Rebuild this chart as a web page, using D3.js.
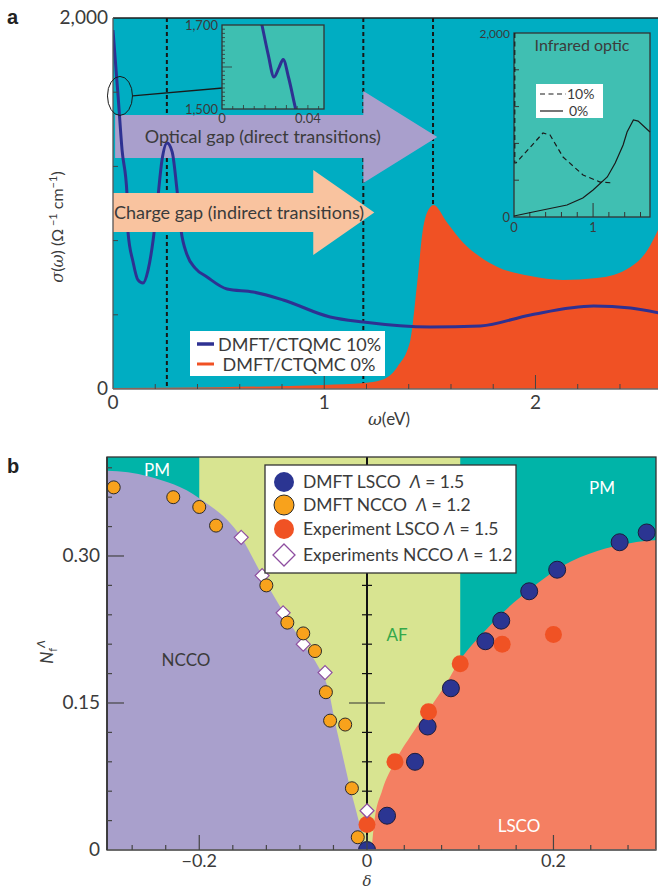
<!DOCTYPE html>
<html><head><meta charset="utf-8">
<script src="https://cdn.jsdelivr.net/npm/d3@7"></script>
<style>
body{margin:0;background:#fff;}
svg{display:block;font-family:Lato,"Open Sans",sans-serif;}
text{white-space:pre;}
</style></head><body>
<svg id="c" width="658" height="890"></svg>
<script>
// ================= DATA =================
// Panel a: optical conductivity sigma(omega), Ohm^-1 cm^-1
const omega10 = [0, 0.024, 0.043, 0.066, 0.071, 0.095, 0.118, 0.142, 0.166, 0.190, 0.209, 0.232, 0.256, 0.280, 0.303, 0.322, 0.351, 0.389, 0.445, 0.540, 0.664, 0.806, 1.028, 1.185, 1.502, 1.739, 1.976, 2.275, 2.450, 2.583];
const sigma10 = [1935, 1580, 1288, 1057, 846, 685, 588, 571, 641, 803, 992, 1234, 1326, 1278, 1073, 857, 722, 652, 604, 539, 523, 480, 388, 361, 334, 340, 399, 447, 437, 410];
const omega0 = [0, 0.5, 1.0, 1.19, 1.27, 1.346, 1.408, 1.44, 1.469, 1.502, 1.517, 1.583, 1.659, 1.739, 1.82, 1.976, 2.13, 2.29, 2.45, 2.53, 2.58];
const sigma0 = [5, 10, 22, 32, 48, 119, 264, 571, 873, 981, 992, 895, 787, 712, 658, 609, 588, 598, 658, 749, 857];
const gapLines = [0.255, 1.185, 1.515];
const aXTickLabels = ["0", "1", "2"];
const aYTickLabels = ["0", "2,000"];
const legendA = ["DMFT/CTQMC 10%", " DMFT/CTQMC 0%"];
// zoom inset (top)
const zoomOmega = [0.016, 0.0186, 0.0215, 0.0242, 0.0265, 0.0285, 0.031, 0.0343, 0.036];
const zoomSigma = [1760, 1700, 1630, 1576, 1598, 1618, 1575, 1500, 1465];
const zoomYLabels = ["1,500", "1,700"];
const zoomXLabels = ["0", "0.04"];
// infrared inset
const irOmega10 = [0.01, 0.01, 0.025, 0.367, 0.456, 0.62, 0.873, 1.089, 1.253];
const irSigma10 = [2000, 587, 587, 913, 891, 652, 457, 380, 370];
const irOmega0 = [0, 0.24, 0.67, 0.87, 1.0, 1.18, 1.28, 1.38, 1.43, 1.51, 1.57, 1.72];
const irSigma0 = [11, 54, 130, 207, 293, 435, 587, 783, 924, 1054, 1043, 924];
const irLegend = ["10%", "0%"];

// Panel b: N_f^Lambda vs doping delta
const dmftLscoDelta = [0, 0.0215, 0.0515, 0.065, 0.090, 0.127, 0.144, 0.174, 0.204, 0.271, 0.300];
const dmftLscoN     = [0, 0.035, 0.090, 0.126, 0.165, 0.213, 0.234, 0.264, 0.286, 0.314, 0.324];
const dmftNccoDelta = [-0.302, -0.231, -0.200, -0.180, -0.120, -0.095, -0.076, -0.062, -0.049, -0.044, -0.026, -0.018, -0.011];
const dmftNccoN     = [0.370, 0.360, 0.350, 0.331, 0.270, 0.232, 0.221, 0.203, 0.161, 0.132, 0.128, 0.063, 0.013];
const expLscoDelta  = [0.0, 0.030, 0.066, 0.100, 0.145, 0.200];
const expLscoN      = [0.026, 0.090, 0.141, 0.190, 0.210, 0.220];
const expNccoDelta  = [-0.150, -0.125, -0.100, -0.076, -0.050, 0.0];
const expNccoN      = [0.319, 0.280, 0.242, 0.210, 0.181, 0.040];
const nccoBoundDelta = [-0.31, -0.26, -0.2, -0.15, -0.125, -0.1, -0.076, -0.06, -0.045, -0.038, -0.03, -0.02, -0.01, -0.002];
const nccoBoundN     = [0.387, 0.381, 0.359, 0.319, 0.280, 0.243, 0.21, 0.19, 0.16, 0.13, 0.10, 0.063, 0.03, 0];
const lscoBoundDelta = [0.005, 0.008, 0.016, 0.03, 0.048, 0.066, 0.085, 0.1, 0.125, 0.15, 0.175, 0.21, 0.247, 0.282, 0.311];
const lscoBoundN     = [0, 0.03, 0.06, 0.09, 0.118, 0.143, 0.170, 0.194, 0.222, 0.246, 0.266, 0.290, 0.305, 0.313, 0.316];
const afRange = [-0.2, 0.1];
const bXTickLabels = ["\u22120.2", "0", "0.2"];
const bYTickLabels = ["0", "0.15", "0.30"];
const legendBNames = ["DMFT LSCO  ", "DMFT NCCO  ", "Experiment LSCO ", "Experiments NCCO "];
const legendBLambda = ["1.5", "1.2", "1.5", "1.2"];

// ================= DRAW =================
const svg = d3.select("#c");
const ink = "#3b3b3b";
const defs = svg.append("defs");

// ---------- Panel a ----------
const xA = d3.scaleLinear().domain([0, 2.58]).range([113, 658]);
const yA = d3.scaleLinear().domain([0, 2000]).range([389, 18]);
defs.append("clipPath").attr("id", "clipA").append("rect")
  .attr("x", xA(0)).attr("y", yA(2000)).attr("width", xA(2.58) - xA(0)).attr("height", yA(0) - yA(2000));
const gA = svg.append("g").attr("clip-path", "url(#clipA)");
gA.append("rect").attr("x", xA(0)).attr("y", yA(2000)).attr("width", xA(2.58) - xA(0)).attr("height", yA(0) - yA(2000)).attr("fill", "#00adc2");

gapLines.forEach(w => gA.append("line").attr("x1", xA(w)).attr("x2", xA(w)).attr("y1", yA(2000)).attr("y2", yA(0))
  .attr("stroke", "#161616").attr("stroke-width", 2).attr("stroke-dasharray", "4,3"));

const red = omega0.map((w, i) => [w, sigma0[i]]);
gA.append("path").datum(red)
  .attr("d", d3.area().x(d => xA(d[0])).y0(yA(0)).y1(d => yA(d[1])).curve(d3.curveMonotoneX))
  .attr("fill", "#f05124");

function arrowPts(a) {
  const mid = (a.head[0] + a.head[1]) / 2;
  const p = [[a.from, a.body[1]], [a.headStart, a.body[1]], [a.headStart, a.head[1]], [a.tip, mid],
             [a.headStart, a.head[0]], [a.headStart, a.body[0]], [a.from, a.body[0]]];
  return p.map(q => xA(q[0]) + "," + yA(q[1])).join(" ");
}
const opticalArrow = {from: 0.01, headStart: 1.185, tip: 1.535, body: [1245, 1477], head: [1110, 1606]};
const chargeArrow  = {from: 0.0, headStart: 0.948, tip: 1.237, body: [846, 1057], head: [722, 1181]};

gA.append("polygon").attr("points", arrowPts(opticalArrow)).attr("fill", "#a99fcc");

const blue = omega10.map((w, i) => [w, sigma10[i]]);
gA.append("path").datum(blue)
  .attr("d", d3.line().x(d => xA(d[0])).y(d => yA(d[1])).curve(d3.curveMonotoneX))
  .attr("fill", "none").attr("stroke", "#2e3192").attr("stroke-width", 3);

gA.append("polygon").attr("points", arrowPts(chargeArrow)).attr("fill", "#f9c39f");

svg.append("text").attr("x", xA(0.15)).attr("y", yA(1361) + 6).attr("font-size", 18).attr("fill", ink)
  .text("Optical gap (direct transitions)");
svg.append("text").attr("x", xA(0.005)).attr("y", yA(951) + 6).attr("font-size", 18).attr("fill", ink)
  .text("Charge gap (indirect transitions)");

// axes a
svg.append("line").attr("x1", xA(0)).attr("x2", 658).attr("y1", yA(2000)).attr("y2", yA(2000)).attr("stroke", "#1e1e1e").attr("stroke-width", 1.5);
svg.append("line").attr("x1", xA(0)).attr("x2", xA(0)).attr("y1", yA(2000)).attr("y2", yA(0)).attr("stroke", "#555").attr("stroke-width", 1.3);
svg.append("line").attr("x1", xA(0)).attr("x2", 658).attr("y1", yA(0)).attr("y2", yA(0)).attr("stroke", "#6a6a6a").attr("stroke-width", 1.6);
d3.range(1, 5).forEach(i => svg.append("line").attr("x1", xA(0)).attr("x2", xA(0) + 5)
  .attr("y1", yA(i * 400)).attr("y2", yA(i * 400)).attr("stroke", "#444").attr("stroke-width", 1));
d3.range(1, 13).forEach(i => {
  const v = i * 0.2, major = (i % 5 === 0);
  svg.append("line").attr("x1", xA(v)).attr("x2", xA(v)).attr("y1", yA(0)).attr("y2", yA(0) - (major ? 14 : 5))
    .attr("stroke", "#444").attr("stroke-width", 1);
});
aXTickLabels.forEach((t, i) => svg.append("text").attr("x", xA(i)).attr("y", 409).attr("text-anchor", "middle")
  .attr("font-size", 19).attr("fill", ink).text(t));
[0, 2000].forEach((v, i) => svg.append("text").attr("x", 108).attr("y", yA(v) + 6).attr("text-anchor", "end")
  .attr("font-size", 19).attr("fill", ink).text(aYTickLabels[i]));
const xl = svg.append("text").attr("x", 389).attr("y", 425).attr("text-anchor", "middle").attr("font-size", 17).attr("fill", ink);
xl.append("tspan").attr("font-style", "italic").attr("font-family", "DejaVu Serif").text("\u03c9");
xl.append("tspan").text("(eV)");
const yl = svg.append("text").attr("transform", "translate(63,227) rotate(-90)").attr("text-anchor", "middle")
  .attr("font-size", 16).attr("fill", ink);
yl.append("tspan").attr("font-style", "italic").attr("font-family", "DejaVu Serif").text("\u03c3");
yl.append("tspan").text("(");
yl.append("tspan").attr("font-style", "italic").attr("font-family", "DejaVu Serif").text("\u03c9");
yl.append("tspan").text(") (\u03a9");
yl.append("tspan").attr("dy", -6).attr("font-size", 11).text(" \u22121");
yl.append("tspan").attr("dy", 6).text(" cm");
yl.append("tspan").attr("dy", -6).attr("font-size", 11).text("\u22121");
yl.append("tspan").attr("dy", 6).text(")");

// ellipse + connector to zoom inset
const xIn = d3.scaleLinear().domain([0, 0.0475]).range([222, 324]);
const yIn = d3.scaleLinear().domain([1500, 1700]).range([109, 25]);
svg.append("ellipse").attr("cx", xA(0.033)).attr("cy", yA(1580)).attr("rx", 12.5).attr("ry", 19.5)
  .attr("fill", "none").attr("stroke", "#1a1a1a").attr("stroke-width", 1);
svg.append("line").attr("x1", xA(0.033) + 12.5).attr("y1", yA(1580)).attr("x2", xIn(0.007)).attr("y2", yIn(1553))
  .attr("stroke", "#1a1a1a").attr("stroke-width", 1.3);

// zoom inset
defs.append("clipPath").attr("id", "clipIn").append("rect").attr("x", xIn(0)).attr("y", yIn(1700))
  .attr("width", xIn(0.0475) - xIn(0)).attr("height", yIn(1500) - yIn(1700));
svg.append("rect").attr("x", xIn(0)).attr("y", yIn(1700)).attr("width", xIn(0.0475) - xIn(0)).attr("height", yIn(1500) - yIn(1700))
  .attr("fill", "#3ebfb1");
svg.append("g").attr("clip-path", "url(#clipIn)").append("path").datum(zoomOmega.map((w, i) => [w, zoomSigma[i]]))
  .attr("d", d3.line().x(d => xIn(d[0])).y(d => yIn(d[1])).curve(d3.curveMonotoneX))
  .attr("fill", "none").attr("stroke", "#2e3192").attr("stroke-width", 3);
d3.range(1, 20).forEach(i => {
  const v = 1500 + i * 10;
  svg.append("line").attr("x1", xIn(0)).attr("x2", xIn(0) + (i === 10 ? 10 : 3)).attr("y1", yIn(v)).attr("y2", yIn(v))
    .attr("stroke", "#333").attr("stroke-width", 0.8);
});
d3.range(1, 10).forEach(i => {
  const v = i * 0.005;
  svg.append("line").attr("x1", xIn(v)).attr("x2", xIn(v)).attr("y1", yIn(1500)).attr("y2", yIn(1500) - (i % 2 === 0 ? 4 : 3))
    .attr("stroke", "#333").attr("stroke-width", 0.8);
});
svg.append("rect").attr("x", xIn(0)).attr("y", yIn(1700)).attr("width", xIn(0.0475) - xIn(0)).attr("height", yIn(1500) - yIn(1700))
  .attr("fill", "none").attr("stroke", "#333").attr("stroke-width", 1.3);
[1500, 1700].forEach((v, i) => svg.append("text").attr("x", xIn(0) - 4).attr("y", yIn(v) + 5).attr("text-anchor", "end")
  .attr("font-size", 13).attr("fill", ink).text(zoomYLabels[i]));
[0, 0.04].forEach((v, i) => svg.append("text").attr("x", xIn(v)).attr("y", yIn(1500) + 14).attr("text-anchor", "middle")
  .attr("font-size", 13).attr("fill", ink).text(zoomXLabels[i]));

// infrared inset
const xIR = d3.scaleLinear().domain([0, 1.72]).range([514, 650]);
const yIR = d3.scaleLinear().domain([0, 2000]).range([217, 33]);
svg.append("rect").attr("x", xIR(0)).attr("y", yIR(2000)).attr("width", xIR(1.72) - xIR(0)).attr("height", yIR(0) - yIR(2000))
  .attr("fill", "#40bfb2").attr("stroke", "#333").attr("stroke-width", 1.3);
d3.range(1, 5).forEach(i => svg.append("line").attr("x1", xIR(0)).attr("x2", xIR(0) + 5).attr("y1", yIR(i * 400)).attr("y2", yIR(i * 400))
  .attr("stroke", "#333").attr("stroke-width", 1));
d3.range(1, 9).forEach(i => svg.append("line").attr("x1", xIR(i * 0.2)).attr("x2", xIR(i * 0.2)).attr("y1", yIR(0))
  .attr("y2", yIR(0) - (i === 5 ? 14 : 5)).attr("stroke", "#333").attr("stroke-width", 1));
const irLine = d3.line().x(d => xIR(d[0])).y(d => yIR(d[1]));
svg.append("path").datum(irOmega10.map((w, i) => [w, irSigma10[i]])).attr("d", irLine)
  .attr("fill", "none").attr("stroke", "#1a1a1a").attr("stroke-width", 1.2).attr("stroke-dasharray", "5,3.5");
svg.append("path").datum(irOmega0.map((w, i) => [w, irSigma0[i]])).attr("d", irLine)
  .attr("fill", "none").attr("stroke", "#1a1a1a").attr("stroke-width", 1.2);
svg.append("text").attr("x", xIR(0.86)).attr("y", 51).attr("text-anchor", "middle").attr("font-size", 16).attr("fill", ink).text("Infrared optic");
svg.append("text").attr("x", xIR(0) - 4).attr("y", yIR(2000) + 5).attr("text-anchor", "end").attr("font-size", 12).attr("fill", ink).text("2,000");
svg.append("text").attr("x", xIR(0) - 4).attr("y", yIR(0) + 5).attr("text-anchor", "end").attr("font-size", 13).attr("fill", ink).text("0");
svg.append("text").attr("x", xIR(0)).attr("y", yIR(0) + 15).attr("text-anchor", "middle").attr("font-size", 13).attr("fill", ink).text("0");
svg.append("text").attr("x", xIR(1)).attr("y", yIR(0) + 15).attr("text-anchor", "middle").attr("font-size", 13).attr("fill", ink).text("1");
svg.append("rect").attr("x", 536).attr("y", 84).attr("width", 67).attr("height", 34).attr("fill", "#fff");
svg.append("line").attr("x1", 540).attr("x2", 566).attr("y1", 94).attr("y2", 94).attr("stroke", "#1a1a1a").attr("stroke-width", 1.2).attr("stroke-dasharray", "5,3.5");
svg.append("line").attr("x1", 540).attr("x2", 563).attr("y1", 111).attr("y2", 111).attr("stroke", "#1a1a1a").attr("stroke-width", 1.2);
svg.append("text").attr("x", 567).attr("y", 99).attr("font-size", 14).attr("fill", ink).text(irLegend[0]);
svg.append("text").attr("x", 569).attr("y", 116).attr("font-size", 14).attr("fill", ink).text(irLegend[1]);

// legend a
svg.append("rect").attr("x", 190).attr("y", 331).attr("width", 195).attr("height", 45).attr("fill", "#fff");
svg.append("line").attr("x1", 197).attr("x2", 214).attr("y1", 344).attr("y2", 344).attr("stroke", "#2e3192").attr("stroke-width", 3.5);
svg.append("line").attr("x1", 197).attr("x2", 214).attr("y1", 364).attr("y2", 364).attr("stroke", "#f05124").attr("stroke-width", 3);
svg.append("text").attr("x", 218).attr("y", 351).attr("font-size", 18).attr("fill", ink).text(legendA[0]);
svg.append("text").attr("x", 218).attr("y", 371).attr("font-size", 18).attr("fill", ink).text(legendA[1]);

svg.append("text").attr("x", 7).attr("y", 24).attr("font-size", 20).attr("font-weight", "bold").attr("font-family", "Liberation Sans").attr("fill", "#222").text("a");
svg.append("text").attr("x", 7).attr("y", 473).attr("font-size", 20).attr("font-weight", "bold").attr("font-family", "Liberation Sans").attr("fill", "#222").text("b");

// ---------- Panel b ----------
const xB = d3.scaleLinear().domain([-0.31, 0, 0.31]).range([107, 367, 656]);
const yB = d3.scaleLinear().domain([0, 0.401]).range([850, 457]);
defs.append("clipPath").attr("id", "clipB").append("rect").attr("x", xB(-0.31)).attr("y", yB(0.401))
  .attr("width", xB(0.31) - xB(-0.31)).attr("height", yB(0) - yB(0.401));
const gB = svg.append("g").attr("clip-path", "url(#clipB)");
gB.append("rect").attr("x", xB(-0.31)).attr("y", yB(0.401)).attr("width", xB(0.31) - xB(-0.31)).attr("height", yB(0) - yB(0.401)).attr("fill", "#00b4a8");
gB.append("rect").attr("x", xB(afRange[0])).attr("y", yB(0.401)).attr("width", xB(afRange[1]) - xB(afRange[0])).attr("height", yB(0) - yB(0.401)).attr("fill", "#d8e491");
const areaB = d3.area().x(d => xB(d[0])).y0(yB(0)).y1(d => yB(d[1])).curve(d3.curveMonotoneX);
gB.append("path").datum([[-0.31, 0]].concat(nccoBoundDelta.map((d, i) => [d, nccoBoundN[i]]))).attr("d", areaB).attr("fill", "#a9a0cc");
gB.append("path").datum(lscoBoundDelta.map((d, i) => [d, lscoBoundN[i]]).concat([[0.31, 0.316]])).attr("d", areaB).attr("fill", "#f47f62");

// central axis with crosses
gB.append("line").attr("x1", xB(0)).attr("x2", xB(0)).attr("y1", yB(0.401)).attr("y2", yB(0)).attr("stroke", "#111").attr("stroke-width", 2);
d3.range(1, 14).forEach(i => {
  const v = i * 0.03, w = (i === 5 ? 18 : 5);
  gB.append("line").attr("x1", xB(0) - w).attr("x2", xB(0) + w).attr("y1", yB(v)).attr("y2", yB(v))
    .attr("stroke", i === 5 ? "#333" : "#111").attr("stroke-width", 1.2);
});

// points
gB.selectAll(".bl").data(dmftLscoDelta.map((d, i) => [d, dmftLscoN[i]])).enter().append("circle")
  .attr("cx", d => xB(d[0])).attr("cy", d => yB(d[1])).attr("r", 8.5).attr("fill", "#2b3592").attr("stroke", "#1c1c3c").attr("stroke-width", 1);
gB.selectAll(".rd").data(expLscoDelta.map((d, i) => [d, expLscoN[i]])).enter().append("circle")
  .attr("cx", d => xB(d[0])).attr("cy", d => yB(d[1])).attr("r", 8.5).attr("fill", "#f05224");
const diamond = (cx, cy, s) => `M${cx},${cy - s}L${cx + s},${cy}L${cx},${cy + s}L${cx - s},${cy}Z`;
gB.selectAll(".dm").data(expNccoDelta.map((d, i) => [d, expNccoN[i]])).enter().append("path")
  .attr("d", d => diamond(xB(d[0]), yB(d[1]), 7)).attr("fill", "#fff").attr("stroke", "#8e4ea0").attr("stroke-width", 1.2);
gB.selectAll(".or").data(dmftNccoDelta.map((d, i) => [d, dmftNccoN[i]])).enter().append("circle")
  .attr("cx", d => xB(d[0])).attr("cy", d => yB(d[1])).attr("r", 6.5).attr("fill", "#f8a21c").attr("stroke", "#2a2a2a").attr("stroke-width", 1);

// frame
svg.append("rect").attr("x", xB(-0.31)).attr("y", yB(0.401)).attr("width", xB(0.31) - xB(-0.31)).attr("height", yB(0) - yB(0.401))
  .attr("fill", "none").attr("stroke", "#333").attr("stroke-width", 1.3);
svg.append("line").attr("x1", xB(-0.31)).attr("x2", xB(0.31)).attr("y1", yB(0)).attr("y2", yB(0)).attr("stroke", "#6a6a6a").attr("stroke-width", 1.6);
svg.append("line").attr("x1", xB(-0.31)).attr("x2", xB(-0.31)).attr("y1", yB(0.401)).attr("y2", yB(0)).attr("stroke", "#333").attr("stroke-width", 1.6);
d3.range(1, 14).forEach(i => {
  const v = i * 0.03, major = (i % 5 === 0);
  svg.append("line").attr("x1", xB(-0.31)).attr("x2", xB(-0.31) + (major ? 17 : 5)).attr("y1", yB(v)).attr("y2", yB(v))
    .attr("stroke", "#444").attr("stroke-width", 1.2);
});
d3.range(-7, 8).forEach(i => {
  const v = i * 0.04, major = (i % 5 === 0);
  svg.append("line").attr("x1", xB(v)).attr("x2", xB(v)).attr("y1", yB(0)).attr("y2", yB(0) - (major ? 15 : 5))
    .attr("stroke", "#444").attr("stroke-width", 1.2);
});
[-0.2, 0, 0.2].forEach((v, i) => svg.append("text").attr("x", xB(v)).attr("y", 867).attr("text-anchor", "middle")
  .attr("font-size", 18).attr("fill", ink).text(bXTickLabels[i]));
[0, 0.15, 0.30].forEach((v, i) => svg.append("text").attr("x", 100).attr("y", yB(v) + 6).attr("text-anchor", "end")
  .attr("font-size", 19).attr("fill", ink).text(bYTickLabels[i]));
svg.append("text").attr("x", xB(0)).attr("y", 886).attr("text-anchor", "middle").attr("font-size", 15).attr("font-style", "italic")
  .attr("font-family", "DejaVu Serif").attr("fill", ink).text("\u03b4");
const nl = svg.append("text").attr("transform", "translate(53,652) rotate(-90)").attr("text-anchor", "middle").attr("font-size", 17).attr("fill", ink);
nl.append("tspan").attr("font-style", "italic").text("N");
nl.append("tspan").attr("dy", 4).attr("font-size", 11).text("f");
nl.append("tspan").attr("dy", -12).attr("font-size", 12).attr("font-style", "italic").text("\u039b");

svg.append("text").attr("x", 157).attr("y", 476).attr("text-anchor", "middle").attr("font-size", 17).attr("fill", "#fff").text("PM");
svg.append("text").attr("x", 602).attr("y", 494).attr("text-anchor", "middle").attr("font-size", 17).attr("fill", "#fff").text("PM");
svg.append("text").attr("x", 397).attr("y", 641).attr("text-anchor", "middle").attr("font-size", 17).attr("fill", "#33a84a").text("AF");
svg.append("text").attr("x", 186).attr("y", 666).attr("text-anchor", "middle").attr("font-size", 17).attr("fill", ink).text("NCCO");
svg.append("text").attr("x", 519).attr("y", 832).attr("text-anchor", "middle").attr("font-size", 17).attr("fill", "#fff").text("LSCO");

// legend b
svg.append("rect").attr("x", 265).attr("y", 465).attr("width", 251).attr("height", 108).attr("fill", "#fff").attr("stroke", "#333").attr("stroke-width", 1.3);
const legY = [482, 505, 529, 555];
svg.append("circle").attr("cx", 284).attr("cy", legY[0]).attr("r", 10).attr("fill", "#2b3592");
svg.append("circle").attr("cx", 284).attr("cy", legY[1]).attr("r", 10).attr("fill", "#f8a21c").attr("stroke", "#2a2a2a").attr("stroke-width", 1);
svg.append("circle").attr("cx", 284).attr("cy", legY[2]).attr("r", 10).attr("fill", "#f05224");
svg.append("path").attr("d", diamond(284, legY[3], 11)).attr("fill", "#fff").attr("stroke", "#8e4ea0").attr("stroke-width", 1.3);
legendBNames.forEach((n, i) => {
  const t = svg.append("text").attr("x", 303).attr("y", legY[i] + 6).attr("font-size", 17.5).attr("fill", ink);
  t.append("tspan").text(n);
  t.append("tspan").attr("font-style", "italic").text("\u039b");
  t.append("tspan").text(" = " + legendBLambda[i]);
});
</script>
</body></html>
